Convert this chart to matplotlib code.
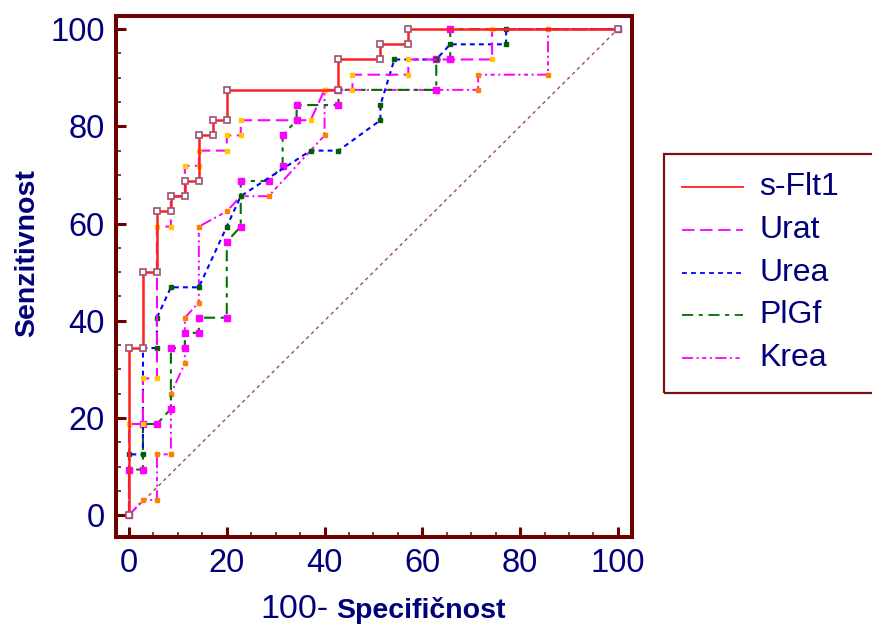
import numpy as np
import matplotlib
matplotlib.use('Agg')
import matplotlib.pyplot as plt
from matplotlib.patches import Rectangle
from matplotlib.lines import Line2D
from matplotlib.ticker import MultipleLocator

plt.rcParams['font.family'] = ['Liberation Sans', 'DejaVu Sans']
plt.rcParams['lines.scale_dashes'] = False

N_NEG = 35  # negatives -> steps on the x axis
N_POS = 32  # positives -> steps on the y axis

# ROC vertices, in counts (negatives passed, positives passed)
flt_x = [0, 0, 1, 1, 2, 2, 3, 3, 4, 4, 5, 5, 6, 6, 7, 7, 15, 15, 18, 18, 20, 20, 35]
flt_y = [0, 11, 11, 16, 16, 20, 20, 21, 21, 22, 22, 25, 25, 26, 26, 28, 28, 30, 30, 31, 31, 32, 32]

urat_x = [0, 0, 1, 1, 2, 2, 3, 3, 4, 4, 5, 5, 7, 7, 8, 8, 13, 14, 16, 16, 20, 20, 26, 26, 35]
urat_y = [0, 6, 6, 9, 9, 19, 19, 21, 21, 23, 23, 24, 24, 25, 25, 26, 26, 28, 28, 29, 29, 30, 30, 32, 32]

urea_x = [0, 0, 1, 1, 2, 2, 3, 5, 7, 8, 13, 15, 18, 18, 19, 22, 23, 27, 27, 35]
urea_y = [0, 4, 4, 11, 11, 13, 15, 15, 19, 21, 24, 24, 26, 27, 30, 30, 31, 31, 32, 32]

plgf_x = [0, 0, 1, 1, 2, 3, 3, 4, 4, 5, 5, 7, 7, 8, 8, 10, 11, 11, 12, 12, 15, 15, 22, 22, 23, 23, 35]
plgf_y = [0, 3, 3, 6, 6, 7, 11, 11, 12, 12, 13, 13, 18, 19, 22, 22, 23, 25, 26, 27, 27, 28, 28, 30, 30, 32, 32]

krea_x = [0, 1, 2, 2, 3, 3, 4, 4, 5, 5, 7, 8, 10, 14, 14, 25, 25, 30, 30, 35]
krea_y = [0, 1, 1, 4, 4, 8, 10, 13, 14, 19, 20, 21, 21, 25, 28, 28, 29, 29, 32, 32]

names = ['s-Flt1', 'Urat', 'Urea', 'PlGf', 'Krea']

navy = '#00007a'
maroon = '#6e0000'

W, H = 872, 630
fig = plt.figure(figsize=(W / 100, H / 100), dpi=100)
ax = fig.add_axes([116 / W, 1 - 537 / H, (632 - 116) / W, (537 - 16) / H])


def pct(xs, ys):
    return 100.0 * np.array(xs) / N_NEG, 100.0 * np.array(ys) / N_POS


# reference diagonal
ax.plot([0, 100], [0, 100], color='#a0504a', lw=1.0, dashes=(2.5, 2.5))

styles = {
    'Krea': dict(color='#ff00ff', lw=1.4, dashes=(8, 2.5, 1.5, 2.5, 3, 2.5, 1.5, 2.5),
                 marker='s', ms=3.2, mfc='#ff8000', mec='#ff8000'),
    'PlGf': dict(color='#007000', lw=1.5, dashes=(8, 4, 3, 4),
                 marker='s', ms=4.8, mfc='#ff00ff', mec='#ff00ff'),
    'Urea': dict(color='#0000ff', lw=1.5, dashes=(3.5, 3),
                 marker='s', ms=2.6, mfc='#006000', mec='#006000'),
    'Urat': dict(color='#ff00ff', lw=1.5, dashes=(9, 4),
                 marker='s', ms=3.2, mfc='#ffc800', mec='#ffc800'),
    's-Flt1': dict(color='#ff2020', lw=1.8, linestyle='-',
                   marker='s', ms=4.3, mfc='white', mec='#a05070', mew=1.2),
}
data = {
    's-Flt1': (flt_x, flt_y),
    'Urat': (urat_x, urat_y),
    'Urea': (urea_x, urea_y),
    'PlGf': (plgf_x, plgf_y),
    'Krea': (krea_x, krea_y),
}
for name in ['Krea', 'PlGf', 'Urea', 'Urat', 's-Flt1']:
    xs, ys = pct(*data[name])
    ax.plot(xs, ys, **styles[name])

ax.set_xlim(-2.66, 102.9)
ax.set_ylim(-4.5, 102.7)
ax.xaxis.set_major_locator(MultipleLocator(20))
ax.yaxis.set_major_locator(MultipleLocator(20))
ax.xaxis.set_minor_locator(MultipleLocator(5))
ax.yaxis.set_minor_locator(MultipleLocator(5))
ax.tick_params(which='major', direction='in', length=7, width=2.2, color=maroon,
               labelsize=23.5, labelcolor=navy, pad=8)
ax.tick_params(which='minor', direction='in', length=3.6, width=1.1, color=maroon)
for s in ax.spines.values():
    s.set_color(maroon)
    s.set_linewidth(2.9)

# axis titles
fig.text(27 / W, 1 - 253 / H, 'Senzitivnost', rotation=90, ha='center', va='center',
         fontsize=20.5, fontweight='bold', color=navy)
fig.text(260 / W, 1 - 618 / H, '100-', ha='left', va='baseline', fontsize=24.5, color=navy)
fig.text(336 / W, 1 - 618 / H, 'Specifičnost', ha='left', va='baseline', fontsize=20.5,
         fontweight='bold', color=navy)

# legend box drawn by hand
fig.add_artist(Rectangle((664 / W, 1 - 393 / H), (890 - 664) / W, (393 - 154) / H,
                         transform=fig.transFigure, fill=False, edgecolor='#7a1010', lw=1.6))
rows = [187, 230, 273, 315, 358]
for name, ry in zip(names, rows):
    st = styles[name]
    kw = dict(color=st['color'], lw=1.3)
    if 'dashes' in st:
        kw['dashes'] = st['dashes']
    fig.add_artist(Line2D([682 / W, 743 / W], [1 - ry / H, 1 - ry / H],
                          transform=fig.transFigure, **kw))
    fig.text(759 / W, 1 - ry / H, name, ha='left', va='center', fontsize=23, color=navy)

fig.savefig('out.png', dpi=100)
